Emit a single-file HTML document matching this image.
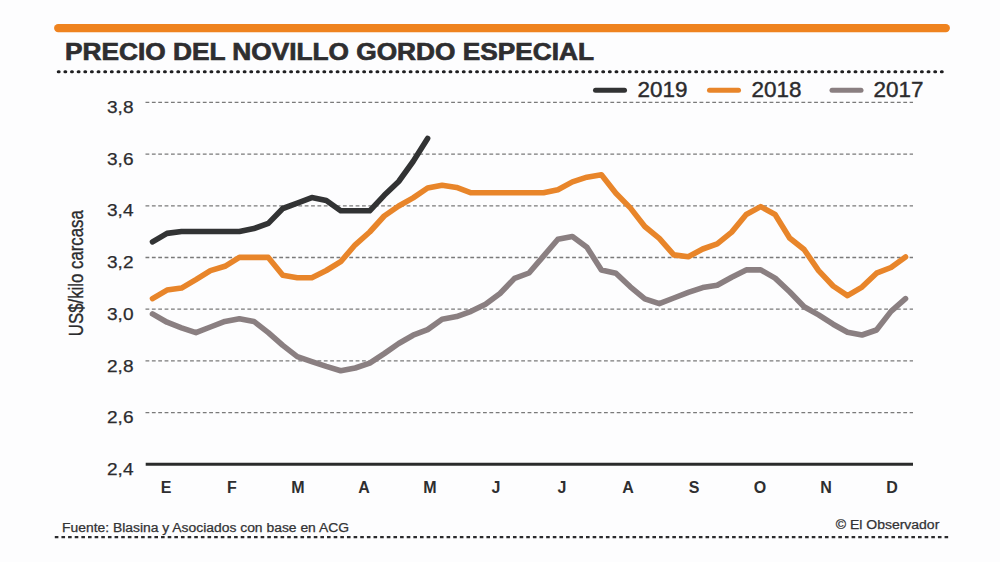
<!DOCTYPE html>
<html><head><meta charset="utf-8"><style>
html,body{margin:0;padding:0;background:#fdfdfe;}
body{width:1000px;height:562px;overflow:hidden;position:relative;font-family:"Liberation Sans",sans-serif;}
svg{position:absolute;left:0;top:0;}
.yl{font-family:"Liberation Sans",sans-serif;font-size:17.2px;fill:#2b2b2d;text-anchor:end;stroke:#2b2b2d;stroke-width:0.25px;}
.ml{font-family:"Liberation Sans",sans-serif;font-size:16px;font-weight:bold;fill:#2e2e30;text-anchor:middle;}
.lg{font-family:"Liberation Sans",sans-serif;font-size:21.5px;fill:#2b2b2d;stroke:#2b2b2d;stroke-width:0.4px;}
.ti{font-family:"Liberation Sans",sans-serif;font-size:24px;font-weight:bold;fill:#2e2e30;stroke:#2e2e30;stroke-width:0.7px;}
.ft{font-family:"Liberation Sans",sans-serif;font-size:12px;fill:#333335;stroke:#333335;stroke-width:0.25px;}
.ax{font-family:"Liberation Sans",sans-serif;font-size:20.5px;fill:#2b2b2d;text-anchor:middle;stroke:#2b2b2d;stroke-width:0.35px;}
</style></head><body>
<svg width="1000" height="562" viewBox="0 0 1000 562">
<line x1="58.2" y1="28.1" x2="945.8" y2="28.1" stroke="#ef831f" stroke-width="8.3" stroke-linecap="round"/>
<text x="65" y="60" class="ti" textLength="529" lengthAdjust="spacingAndGlyphs">PRECIO DEL NOVILLO GORDO ESPECIAL</text>
<line x1="58.25" y1="71.8" x2="943" y2="71.8" stroke="#1f1f21" stroke-width="3" stroke-dasharray="0.9 5.74" stroke-linecap="round"/>
<line x1="595.5" y1="90.3" x2="624.5" y2="90.3" stroke="#323334" stroke-width="5" stroke-linecap="round"/>
<text x="637.5" y="97" class="lg" textLength="50" lengthAdjust="spacingAndGlyphs">2019</text>
<line x1="709.5" y1="90.3" x2="738.5" y2="90.3" stroke="#e8852a" stroke-width="5" stroke-linecap="round"/>
<text x="751.5" y="97" class="lg" textLength="50" lengthAdjust="spacingAndGlyphs">2018</text>
<line x1="832" y1="90.3" x2="861" y2="90.3" stroke="#8a7f81" stroke-width="5" stroke-linecap="round"/>
<text x="873.5" y="97" class="lg" textLength="50" lengthAdjust="spacingAndGlyphs">2017</text>
<line x1="145.5" y1="102.4" x2="913" y2="102.4" stroke="#7a7a7a" stroke-width="1.3" stroke-dasharray="3.8 2.568"/>
<line x1="145.5" y1="154.1" x2="913" y2="154.1" stroke="#7a7a7a" stroke-width="1.3" stroke-dasharray="3.8 2.568"/>
<line x1="145.5" y1="205.8" x2="913" y2="205.8" stroke="#7a7a7a" stroke-width="1.3" stroke-dasharray="3.8 2.568"/>
<line x1="145.5" y1="257.5" x2="913" y2="257.5" stroke="#7a7a7a" stroke-width="1.3" stroke-dasharray="3.8 2.568"/>
<line x1="145.5" y1="309.2" x2="913" y2="309.2" stroke="#7a7a7a" stroke-width="1.3" stroke-dasharray="3.8 2.568"/>
<line x1="145.5" y1="360.9" x2="913" y2="360.9" stroke="#7a7a7a" stroke-width="1.3" stroke-dasharray="3.8 2.568"/>
<line x1="145.5" y1="412.6" x2="913" y2="412.6" stroke="#7a7a7a" stroke-width="1.3" stroke-dasharray="3.8 2.568"/>
<line x1="145.7" y1="464.3" x2="913" y2="464.3" stroke="#2a2b2b" stroke-width="2.9"/>
<text x="133.5" y="113.0" class="yl" textLength="26.5" lengthAdjust="spacingAndGlyphs">3,8</text>
<text x="133.5" y="164.7" class="yl" textLength="26.5" lengthAdjust="spacingAndGlyphs">3,6</text>
<text x="133.5" y="216.4" class="yl" textLength="26.5" lengthAdjust="spacingAndGlyphs">3,4</text>
<text x="133.5" y="268.1" class="yl" textLength="26.5" lengthAdjust="spacingAndGlyphs">3,2</text>
<text x="133.5" y="319.8" class="yl" textLength="26.5" lengthAdjust="spacingAndGlyphs">3,0</text>
<text x="133.5" y="371.5" class="yl" textLength="26.5" lengthAdjust="spacingAndGlyphs">2,8</text>
<text x="133.5" y="423.2" class="yl" textLength="26.5" lengthAdjust="spacingAndGlyphs">2,6</text>
<text x="133.5" y="474.9" class="yl" textLength="26.5" lengthAdjust="spacingAndGlyphs">2,4</text>
<text x="166" y="492.6" class="ml">E</text>
<text x="232" y="492.6" class="ml">F</text>
<text x="298" y="492.6" class="ml">M</text>
<text x="364" y="492.6" class="ml">A</text>
<text x="430" y="492.6" class="ml">M</text>
<text x="496" y="492.6" class="ml">J</text>
<text x="562" y="492.6" class="ml">J</text>
<text x="628" y="492.6" class="ml">A</text>
<text x="694" y="492.6" class="ml">S</text>
<text x="760" y="492.6" class="ml">O</text>
<text x="826" y="492.6" class="ml">N</text>
<text x="892" y="492.6" class="ml">D</text>
<polyline points="152.5,313.9 167.0,322.2 181.5,327.8 195.9,332.6 210.4,327.0 224.9,321.4 239.4,318.7 253.9,321.4 268.3,332.6 282.8,345.4 297.3,356.6 311.8,361.6 326.3,366.4 340.7,370.7 355.2,368.0 369.7,363.2 384.2,353.6 398.7,343.5 413.1,335.2 427.6,329.6 442.1,319.2 456.6,316.6 471.1,311.3 485.5,304.2 500.0,293.5 514.5,278.4 529.0,273.0 543.5,256.1 557.9,239.2 572.4,236.6 586.9,247.2 601.4,270.0 615.9,273.2 630.3,286.8 644.8,298.8 659.3,303.6 673.8,298.0 688.3,292.4 702.7,287.6 717.2,285.2 731.7,277.2 746.2,269.9 760.7,269.9 775.1,278.1 789.6,291.8 804.1,306.8 818.6,314.9 833.1,324.2 847.5,332.3 862.0,335.0 876.5,330.0 891.0,311.4 905.5,298.7" fill="none" stroke="#8a7f81" stroke-width="5.6" stroke-linejoin="round" stroke-linecap="round"/>
<polyline points="152.5,298.6 167.0,290.1 181.5,288.1 195.9,279.6 210.4,270.6 224.9,266.3 239.4,257.4 253.9,257.4 268.3,257.4 282.8,275.3 297.3,277.7 311.8,277.7 326.3,270.5 340.7,261.7 355.2,244.8 369.7,232.0 384.2,216.0 398.7,206.0 413.1,197.9 427.6,188.0 442.1,185.2 456.6,187.4 471.1,192.8 485.5,192.8 500.0,192.8 514.5,192.8 529.0,192.8 543.5,192.8 557.9,189.7 572.4,181.9 586.9,177.2 601.4,174.7 615.9,193.3 630.3,207.9 644.8,226.5 659.3,238.3 673.8,254.9 688.3,256.8 702.7,249.0 717.2,243.9 731.7,232.1 746.2,214.5 760.7,206.6 775.1,214.5 789.6,238.0 804.1,249.5 818.6,270.6 833.1,286.0 847.5,295.6 862.0,287.1 876.5,273.2 891.0,267.5 905.5,257.0" fill="none" stroke="#e8852a" stroke-width="5.6" stroke-linejoin="round" stroke-linecap="round"/>
<polyline points="152.5,241.8 167.0,233.4 181.5,231.5 195.9,231.5 210.4,231.5 224.9,231.5 239.4,231.5 253.9,228.6 268.3,223.4 282.8,208.5 297.3,203.2 311.8,197.6 326.3,200.5 340.7,210.8 355.2,210.8 369.7,210.8 384.2,195.3 398.7,181.5 413.1,161.5 427.6,138.4" fill="none" stroke="#323334" stroke-width="5.6" stroke-linejoin="round" stroke-linecap="round"/>
<text class="ax" transform="translate(83,273.2) rotate(-90)" textLength="126" lengthAdjust="spacingAndGlyphs">US$/kilo carcasa</text>
<text x="62" y="532" class="ft" textLength="287" lengthAdjust="spacingAndGlyphs">Fuente: Blasina y Asociados con base en ACG</text>
<text x="939.3" y="529.4" class="ft" text-anchor="end" textLength="103.5" lengthAdjust="spacingAndGlyphs">© El Observador</text>
<line x1="54.8" y1="537.1" x2="948.5" y2="537.1" stroke="#2b2b2d" stroke-width="2.2" stroke-dasharray="3.6 3.04"/>
</svg>
</body></html>
